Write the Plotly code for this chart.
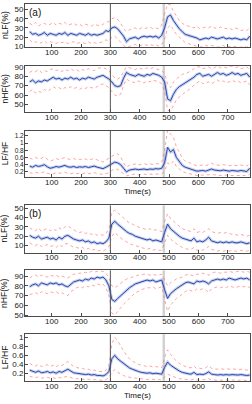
import plotly.graph_objects as go

# time grid (s)
time_s = [25, 35, 45, 55, 65, 75, 85, 95, 105, 115, 125, 135, 145, 155, 165, 175, 185, 195, 205, 215,
          225, 235, 245, 255, 265, 275, 285, 295, 305, 315, 325, 335, 345, 355, 365, 375, 385, 395, 405, 415,
          425, 435, 445, 455, 465, 475, 485, 495, 505, 515, 525, 535, 545, 555, 565, 575, 585, 595, 605, 615,
          625, 635, 645, 655, 665, 675, 685, 695, 705, 715, 725, 735, 745, 755, 765, 775]

# ---- group (a) ----
a_nlf_mean = [26, 23, 24, 22, 23, 25, 22, 24, 23, 22, 24, 23, 25, 22, 24, 23, 22, 24, 23, 22,
              24, 22, 23, 22, 23, 24, 27, 26, 30, 31, 29, 25, 21, 15, 18, 19, 20, 18, 20, 21,
              20, 21, 20, 21, 19, 22, 30, 42, 44, 38, 33, 29, 26, 23, 22, 21, 20, 19, 17, 18,
              19, 18, 20, 19, 18, 19, 20, 18, 19, 18, 19, 18, 17, 18, 17, 21]
a_nlf_up = [35, 33, 36, 32, 34, 35, 33, 34, 36, 33, 35, 34, 36, 33, 34, 35, 33, 34, 32, 34,
            33, 32, 34, 33, 32, 34, 36, 37, 40, 41, 39, 35, 29, 26, 28, 29, 30, 28, 30, 29,
            30, 31, 29, 30, 29, 33, 45, 56, 55, 48, 43, 38, 35, 33, 32, 31, 30, 32, 29, 30,
            31, 30, 32, 30, 29, 31, 30, 29, 30, 28, 30, 29, 27, 28, 27, 30]
a_nlf_lo = [17, 14, 15, 13, 14, 16, 13, 15, 14, 13, 15, 14, 15, 13, 14, 15, 13, 14, 14, 13,
            15, 13, 14, 13, 14, 15, 17, 16, 20, 21, 18, 14, 11, 9, 10, 11, 12, 10, 11, 12,
            11, 12, 11, 12, 10, 12, 18, 30, 33, 28, 23, 20, 17, 14, 13, 12, 11, 10, 9, 10,
            11, 10, 11, 10, 9, 10, 11, 9, 10, 9, 10, 9, 9, 10, 9, 12]

a_nhf_mean = [74, 76, 73, 75, 74, 76, 75, 77, 79, 77, 78, 76, 78, 77, 79, 77, 78, 76, 78, 77,
              79, 78, 77, 79, 80, 81, 79, 77, 74, 70, 69, 70, 78, 84, 82, 81, 80, 82, 81, 80,
              82, 81, 83, 82, 81, 79, 74, 56, 54, 61, 66, 69, 71, 73, 75, 77, 79, 82, 83, 80,
              81, 82, 80, 82, 84, 82, 83, 81, 82, 84, 82, 83, 81, 82, 83, 79]
a_nhf_up = [84, 86, 85, 87, 84, 86, 85, 87, 88, 86, 87, 85, 87, 86, 88, 86, 87, 85, 87, 86,
            88, 87, 86, 88, 89, 89, 88, 86, 82, 78, 77, 79, 85, 90, 89, 88, 87, 89, 88, 87,
            89, 88, 89, 88, 87, 86, 83, 72, 68, 74, 77, 80, 82, 83, 84, 86, 88, 90, 90, 88,
            89, 90, 88, 89, 91, 89, 90, 89, 90, 91, 89, 90, 88, 89, 90, 87]
a_nhf_lo = [64, 66, 62, 64, 63, 66, 64, 66, 69, 67, 68, 66, 68, 67, 69, 67, 68, 66, 68, 67,
            69, 68, 67, 69, 71, 72, 70, 68, 64, 60, 59, 61, 70, 77, 75, 74, 73, 75, 74, 73,
            75, 74, 76, 75, 74, 72, 64, 44, 43, 49, 55, 58, 61, 63, 65, 68, 70, 73, 75, 72,
            73, 74, 72, 74, 76, 74, 75, 73, 74, 76, 74, 75, 73, 74, 75, 71]

a_ratio_mean = [0.36, 0.33, 0.38, 0.35, 0.37, 0.40, 0.34, 0.30, 0.32, 0.35, 0.33, 0.36, 0.38, 0.34, 0.33, 0.35, 0.32, 0.34, 0.33, 0.35,
                0.32, 0.34, 0.36, 0.33, 0.31, 0.29, 0.33, 0.37, 0.42, 0.47, 0.45, 0.40, 0.30, 0.20, 0.25, 0.27, 0.28, 0.26, 0.27, 0.28,
                0.26, 0.28, 0.27, 0.29, 0.28, 0.30, 0.45, 0.88, 0.75, 0.82, 0.60, 0.48, 0.38, 0.33, 0.30, 0.27, 0.25, 0.22, 0.23, 0.24,
                0.22, 0.26, 0.28, 0.25, 0.24, 0.23, 0.25, 0.24, 0.22, 0.24, 0.23, 0.22, 0.24, 0.22, 0.21, 0.30]
a_ratio_up = [0.58, 0.55, 0.60, 0.56, 0.58, 0.62, 0.55, 0.50, 0.53, 0.57, 0.54, 0.58, 0.60, 0.56, 0.54, 0.57, 0.53, 0.55, 0.54, 0.56,
              0.52, 0.55, 0.57, 0.53, 0.50, 0.47, 0.53, 0.58, 0.62, 0.68, 0.70, 0.62, 0.45, 0.33, 0.38, 0.40, 0.42, 0.39, 0.41, 0.43,
              0.40, 0.42, 0.41, 0.43, 0.42, 0.46, 0.80, 1.35, 1.25, 1.15, 0.90, 0.72, 0.58, 0.50, 0.46, 0.42, 0.40, 0.37, 0.38, 0.39,
              0.37, 0.41, 0.44, 0.40, 0.39, 0.38, 0.40, 0.39, 0.37, 0.39, 0.38, 0.37, 0.39, 0.37, 0.36, 0.45]
a_ratio_lo = [0.18, 0.16, 0.19, 0.17, 0.18, 0.20, 0.16, 0.14, 0.15, 0.17, 0.16, 0.18, 0.19, 0.16, 0.15, 0.17, 0.15, 0.16, 0.15, 0.17,
              0.15, 0.16, 0.18, 0.15, 0.14, 0.13, 0.15, 0.18, 0.24, 0.28, 0.27, 0.22, 0.15, 0.09, 0.12, 0.13, 0.14, 0.12, 0.13, 0.14,
              0.12, 0.14, 0.13, 0.14, 0.13, 0.15, 0.22, 0.45, 0.40, 0.50, 0.35, 0.27, 0.21, 0.18, 0.16, 0.14, 0.12, 0.10, 0.11, 0.11,
              0.10, 0.12, 0.13, 0.11, 0.11, 0.10, 0.11, 0.11, 0.10, 0.11, 0.10, 0.10, 0.11, 0.10, 0.09, 0.14]

# ---- group (b) ----
b_nlf_mean = [21, 19, 18, 20, 17, 18, 19, 17, 18, 16, 19, 17, 20, 21, 19, 17, 16, 15, 16, 14,
              15, 13, 14, 12, 13, 12, 14, 18, 33, 36, 33, 30, 28, 25, 23, 22, 20, 19, 18, 17,
              16, 17, 15, 16, 15, 14, 24, 33, 28, 25, 22, 20, 18, 17, 16, 15, 18, 14, 15, 14,
              16, 19, 15, 14, 13, 14, 13, 14, 13, 14, 13, 13, 14, 13, 12, 13]
b_nlf_up = [29, 27, 26, 29, 25, 27, 28, 26, 28, 26, 29, 27, 30, 31, 29, 27, 25, 24, 25, 23,
            24, 22, 23, 21, 22, 21, 23, 28, 46, 48, 45, 42, 39, 36, 34, 33, 31, 30, 29, 28,
            27, 28, 26, 27, 26, 25, 36, 44, 39, 36, 33, 30, 28, 27, 26, 25, 28, 24, 25, 24,
            26, 28, 25, 24, 23, 24, 23, 24, 23, 22, 22, 21, 22, 21, 20, 21]
b_nlf_lo = [13, 11, 10, 12, 9, 10, 11, 9, 10, 8, 11, 9, 12, 12, 10, 8, 8, 7, 8, 6,
            7, 5, 6, 4, 5, 4, 6, 9, 20, 24, 21, 18, 16, 14, 12, 11, 10, 9, 8, 7,
            6, 7, 5, 6, 5, 5, 13, 21, 17, 14, 12, 10, 8, 7, 6, 6, 8, 5, 6, 5,
            7, 9, 6, 5, 4, 5, 4, 5, 4, 5, 4, 4, 5, 4, 4, 5]

b_nhf_mean = [79, 81, 82, 80, 83, 82, 81, 83, 82, 83, 81, 82, 80, 79, 82, 84, 85, 86, 85, 87,
              86, 88, 87, 89, 88, 89, 86, 80, 66, 64, 67, 70, 73, 76, 78, 80, 82, 83, 84, 85,
              86, 85, 86, 84, 85, 86, 76, 67, 72, 75, 77, 79, 81, 83, 84, 83, 82, 85, 84, 85,
              84, 82, 85, 86, 87, 86, 87, 86, 88, 87, 86, 87, 88, 87, 88, 86]
b_nhf_up = [88, 90, 91, 89, 91, 90, 89, 91, 90, 91, 89, 90, 89, 88, 90, 92, 92, 93, 93, 94,
            93, 95, 94, 95, 95, 95, 93, 88, 80, 78, 80, 83, 85, 87, 88, 89, 90, 91, 91, 92,
            92, 91, 92, 91, 91, 92, 86, 80, 83, 85, 87, 88, 89, 91, 92, 91, 90, 92, 92, 93,
            92, 91, 93, 94, 94, 93, 94, 94, 95, 94, 94, 95, 95, 94, 95, 94]
b_nhf_lo = [71, 72, 73, 71, 74, 73, 72, 74, 73, 74, 72, 73, 71, 70, 74, 76, 78, 79, 78, 80,
            79, 81, 80, 82, 81, 82, 78, 70, 52, 50, 54, 57, 61, 64, 67, 70, 73, 74, 76, 77,
            78, 78, 79, 77, 78, 79, 66, 54, 60, 64, 67, 69, 72, 74, 76, 75, 74, 77, 76, 77,
            76, 73, 77, 78, 79, 78, 79, 78, 80, 79, 78, 79, 80, 79, 80, 78]

b_ratio_mean = [0.27, 0.24, 0.22, 0.25, 0.21, 0.22, 0.24, 0.21, 0.23, 0.20, 0.24, 0.22, 0.26, 0.29, 0.25, 0.21, 0.20, 0.19, 0.19, 0.17,
                0.18, 0.16, 0.17, 0.15, 0.15, 0.14, 0.17, 0.24, 0.52, 0.60, 0.52, 0.47, 0.42, 0.36, 0.32, 0.29, 0.26, 0.24, 0.22, 0.21,
                0.20, 0.21, 0.19, 0.20, 0.19, 0.18, 0.33, 0.45, 0.38, 0.33, 0.28, 0.25, 0.22, 0.20, 0.19, 0.18, 0.22, 0.17, 0.18, 0.17,
                0.19, 0.23, 0.18, 0.17, 0.16, 0.17, 0.16, 0.17, 0.16, 0.17, 0.16, 0.16, 0.17, 0.16, 0.15, 0.16]
b_ratio_up = [0.42, 0.38, 0.36, 0.40, 0.35, 0.37, 0.39, 0.35, 0.38, 0.34, 0.39, 0.37, 0.42, 0.46, 0.40, 0.35, 0.33, 0.31, 0.31, 0.28,
              0.29, 0.26, 0.27, 0.24, 0.24, 0.23, 0.27, 0.38, 0.85, 1.00, 0.92, 0.80, 0.70, 0.60, 0.52, 0.47, 0.43, 0.40, 0.38, 0.36,
              0.35, 0.36, 0.34, 0.35, 0.34, 0.32, 0.55, 0.72, 0.62, 0.54, 0.47, 0.42, 0.38, 0.35, 0.33, 0.32, 0.36, 0.30, 0.31, 0.30,
              0.32, 0.37, 0.31, 0.30, 0.29, 0.30, 0.29, 0.30, 0.29, 0.30, 0.29, 0.28, 0.29, 0.28, 0.27, 0.28]
b_ratio_lo = [0.13, 0.11, 0.10, 0.12, 0.09, 0.10, 0.11, 0.09, 0.10, 0.08, 0.11, 0.09, 0.12, 0.13, 0.11, 0.08, 0.08, 0.07, 0.07, 0.06,
              0.07, 0.05, 0.06, 0.05, 0.05, 0.04, 0.06, 0.10, 0.22, 0.28, 0.22, 0.18, 0.15, 0.12, 0.11, 0.10, 0.09, 0.08, 0.07, 0.07,
              0.06, 0.07, 0.06, 0.06, 0.06, 0.05, 0.12, 0.18, 0.15, 0.12, 0.10, 0.08, 0.07, 0.06, 0.06, 0.05, 0.07, 0.05, 0.05, 0.05,
              0.06, 0.08, 0.05, 0.05, 0.04, 0.05, 0.04, 0.05, 0.04, 0.05, 0.04, 0.04, 0.05, 0.04, 0.04, 0.04]

panels = [
    ("nLF(%)", a_nlf_mean, a_nlf_up, a_nlf_lo, [9, 56], [10, 20, 30, 40, 50], ["10", "20", "30", "40", "50"]),
    ("nHF(%)", a_nhf_mean, a_nhf_up, a_nhf_lo, [42, 91], [50, 60, 70, 80, 90], ["50", "60", "70", "80", "90"]),
    ("LF/HF", a_ratio_mean, a_ratio_up, a_ratio_lo, [0.06, 1.34], [0.2, 0.4, 0.6, 0.8, 1.0, 1.2], ["0.2", "0.4", "0.6", "0.8", "1", "1.2"]),
    ("nLF(%)", b_nlf_mean, b_nlf_up, b_nlf_lo, [2.5, 53], [10, 20, 30, 40, 50], ["10", "20", "30", "40", "50"]),
    ("nHF(%)", b_nhf_mean, b_nhf_up, b_nhf_lo, [48.5, 96], [50, 60, 70, 80, 90], ["50", "60", "70", "80", "90"]),
    ("LF/HF", b_ratio_mean, b_ratio_up, b_ratio_lo, [0.02, 1.07], [0.2, 0.4, 0.6, 0.8, 1.0], ["0.2", "0.4", "0.6", "0.8", "1"]),
]
x_ticks = [100, 200, 300, 400, 500, 600, 700]
event_line = 300
event_band = [478, 486]
group_labels = ["(a)", "(b)"]

W, H = 252, 404
pix_rows = [(1, 45), (64, 111), (130, 177), (206, 254), (272, 319), (337, 385)]
x_dom = [25 / W, 250 / W]
FONT = "Liberation Sans, Arial, sans-serif"
axis_col = "#4a4a4a"

fig = go.Figure()
annotations = []
shapes = []
for i, (title, mean, up, lo, yr, yt, ytl) in enumerate(panels):
    k = "" if i == 0 else str(i + 1)
    xa, ya = "x" + k, "y" + k
    top, bot = pix_rows[i]
    ydom = [1 - bot / H, 1 - top / H]
    fig.add_trace(go.Scatter(x=time_s, y=up, xaxis=xa, yaxis=ya, mode="lines",
                             line=dict(color="rgba(255,100,100,0.6)", width=1, dash="dot"),
                             showlegend=False, hoverinfo="skip"))
    fig.add_trace(go.Scatter(x=time_s, y=lo, xaxis=xa, yaxis=ya, mode="lines",
                             line=dict(color="rgba(255,100,100,0.6)", width=1, dash="dot"),
                             showlegend=False, hoverinfo="skip"))
    fig.add_trace(go.Scatter(x=time_s, y=mean, xaxis=xa, yaxis=ya, mode="lines",
                             line=dict(color="rgba(130,150,220,0.45)", width=3),
                             showlegend=False, hoverinfo="skip"))
    fig.add_trace(go.Scatter(x=time_s, y=mean, xaxis=xa, yaxis=ya, mode="lines",
                             line=dict(color="#2c47a8", width=1),
                             showlegend=False))
    common = dict(showline=True, mirror=True, linecolor=axis_col, linewidth=1,
                  ticks="inside", ticklen=3, tickcolor=axis_col, showgrid=False, zeroline=False)
    yfont = 6.5 if i == 2 else 8
    fig.update_layout(**{
        ("xaxis" + k): dict(domain=x_dom, range=[9, 776], tickvals=x_ticks,
                            anchor=ya, ticklabelstandoff=-3,
                            tickfont=dict(family=FONT, size=8, color="#222"), **common),
        ("yaxis" + k): dict(domain=ydom, range=yr, tickvals=yt, ticktext=ytl,
                            anchor=xa, ticklabelstandoff=-1,
                            tickfont=dict(family=FONT, size=yfont, color="#222"), **common),
    })
    shapes.append(dict(type="rect", xref=xa, yref=ya + " domain", x0=event_band[0], x1=event_band[1],
                       y0=0, y1=1, fillcolor="#cfcfcf", line=dict(width=0), layer="below"))
    shapes.append(dict(type="line", xref=xa, yref=ya + " domain", x0=event_line, x1=event_line,
                       y0=0, y1=1, line=dict(color="#555", width=1)))
    annotations.append(dict(text=title, xref="paper", yref="paper", x=4.5 / W, y=(ydom[0] + ydom[1]) / 2,
                            xanchor="center", yanchor="middle",
                            textangle=-90, showarrow=False, font=dict(family=FONT, size=8.5, color="#111")))
    if i in (2, 5):
        annotations.append(dict(text="Time(s)", xref="paper", yref="paper",
                                x=(x_dom[0] + x_dom[1]) / 2, y=1 - (bot + 14.5) / H,
                                xanchor="center", yanchor="middle",
                                showarrow=False, font=dict(family=FONT, size=8, color="#111")))
    if i in (0, 3):
        annotations.append(dict(text=group_labels[i // 3], xref=xa + " domain", yref=ya + " domain",
                                x=0.01, y=0.98, xanchor="left", yanchor="top", showarrow=False,
                                font=dict(family=FONT, size=10, color="#111")))

fig.update_layout(width=W, height=H, margin=dict(l=0, r=0, t=0, b=0),
                  paper_bgcolor="white", plot_bgcolor="white",
                  shapes=shapes, annotations=annotations, showlegend=False)
fig.write_html("out.html", config={"displayModeBar": False},
               post_script="document.body.style.margin='0';document.body.style.overflow='hidden';")
